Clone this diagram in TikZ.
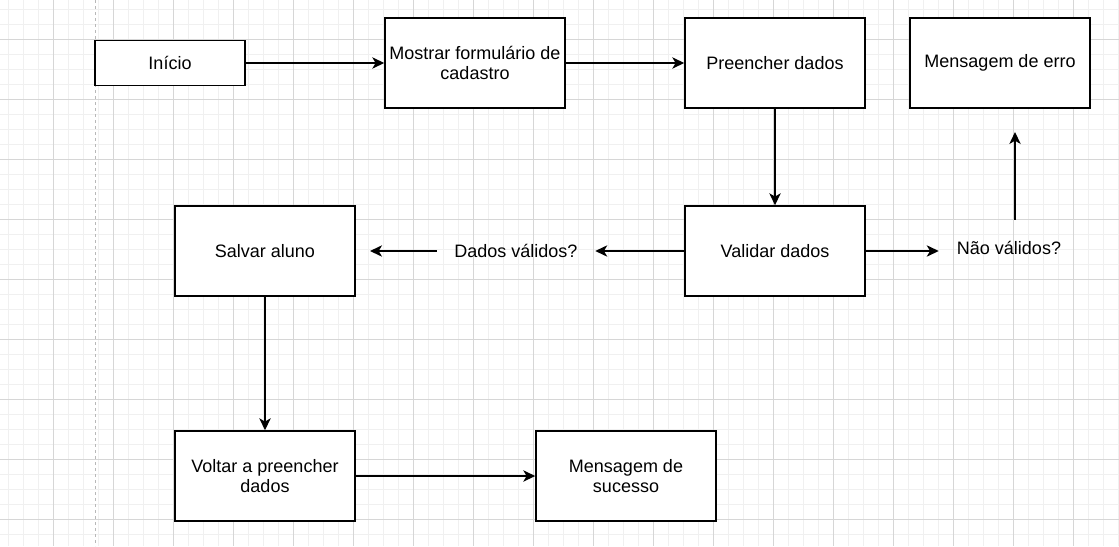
\documentclass[tikz,border=0pt]{standalone}
\usepackage{fontspec}
\setmainfont{Liberation Sans}
\usetikzlibrary{arrows.meta}

\begin{document}
\begin{tikzpicture}[x=0.75pt,y=-0.75pt,
    every node/.style={font=\fontsize{13.5}{15.5}\selectfont},
    box/.style={draw=black, line width=1.1pt, fill=white, align=center, inner sep=0pt, minimum width=135pt, minimum height=67.5pt},
    question/.style={inner sep=0pt, align=center},
    conn/.style={line width=1.1pt, -{Stealth[length=9pt,width=8.5pt,inset=2.5pt]}},
    minorgrid/.style={draw=black!6, line width=0.75pt},
    majorgrid/.style={draw=black!16, line width=0.75pt}]

    % background grid
    \fill[white] (0,0) rectangle (1119,546);
    \useasboundingbox (0,0) rectangle (1119,546);
    \foreach \gx in {8,23,...,1118} \draw[minorgrid] (\gx,0) -- (\gx,546);
    \foreach \gy in {9.5,24.5,...,545} \draw[minorgrid] (0,\gy) -- (1119,\gy);
    \foreach \gx in {53,113,...,1073} \draw[majorgrid] (\gx,0) -- (\gx,546);
    \foreach \gy in {39.5,99.5,...,519.5} \draw[majorgrid] (0,\gy) -- (1119,\gy);
    \draw[draw=black!28, line width=0.75pt, dash pattern=on 2.5pt off 2pt] (95,0) -- (95,546);

    \node[box, minimum width=112.5pt, minimum height=33.75pt] (inicio) at (170,63) {Início};
    \node[box] (mostrar) at (475,63) {Mostrar formulário de\\cadastro};
    \node[box] (preencher) at (775,63) {Preencher dados};
    \node[box] (erro) at (1000,63) {Mensagem de erro};
    \node[box] (validar) at (775,251) {Validar dados};
    \node[box] (salvar) at (265,251) {Salvar aluno};
    \node[box] (voltar) at (265,476) {Voltar a preencher\\dados};
    \node[box] (sucesso) at (626,476) {Mensagem de\\sucesso};

    \node[question, minimum width=118.5pt] (dadosq) at (516,251) {Dados válidos?};
    \node[question, minimum width=105pt, minimum height=42pt] (naoq) at (1009,248) {Não válidos?};
    \coordinate (salvtip) at (370,251);
    \coordinate (errotip) at (1015,132);

    \draw[conn] (inicio) -- (mostrar);
    \draw[conn] (mostrar) -- (preencher);
    \draw[conn] (preencher) -- (validar);
    \draw[conn] (validar.west) -- (dadosq.east);
    \draw[conn] (dadosq.west) -- (salvtip);
    \draw[conn] (validar.east) -- (validar.east -| naoq.west);
    \draw[conn] ([xshift=4.5pt]naoq.north) -- (errotip);
    \draw[conn] (salvar) -- (voltar);
    \draw[conn] (voltar) -- (sucesso);
\end{tikzpicture}
\end{document}
